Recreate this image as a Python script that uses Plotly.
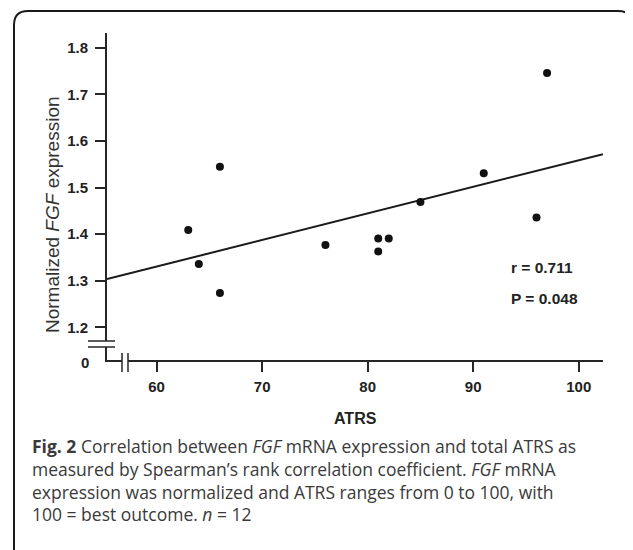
import numpy as np
import plotly.graph_objects as go

# ATRS score vs normalized FGF expression, n = 12
atrs = [63, 64, 66, 66, 76, 81, 81, 82, 85, 91, 96, 97]
fgf_expr = [1.409, 1.336, 1.545, 1.274, 1.377, 1.391, 1.363, 1.391, 1.469, 1.531, 1.436, 1.746]

x_ticks = [60, 70, 80, 90, 100]
y_ticks = [1.2, 1.3, 1.4, 1.5, 1.6, 1.7, 1.8]
x_range = [55.3, 102.3]
y_range = [1.13, 1.832]

stats_text = ["r = 0.711", "P = 0.048"]
caption_lines = [
    "<b>Fig. 2</b> Correlation between <i>FGF</i> mRNA expression and total ATRS as",
    "measured by Spearman’s rank correlation coefficient. <i>FGF</i> mRNA",
    "expression was normalized and ATRS ranges from 0 to 100, with",
    "100 = best outcome. <i>n</i> = 12",
]

W, H = 633, 550
OFF = 8  # page body margin shifts the figure
PL, PT, PW, PH = 107, 33, 496, 327  # plot area in screen pixels
L, T = PL - OFF, PT - OFF
R, B = W - L - PW, H - T - PH


def px2paper(x, y):
    return (x - PL) / PW, (PT + PH - y) / PH


# least squares line across the whole axis
slope, intercept = np.polyfit(atrs, fgf_expr, 1)
fit_x = np.array(x_range)
fit_y = slope * fit_x + intercept

ink = "#262626"

fig = go.Figure()
fig.add_trace(go.Scatter(x=fit_x, y=fit_y, mode="lines",
                         line=dict(color="#1a1a1a", width=2), hoverinfo="skip"))
fig.add_trace(go.Scatter(x=atrs, y=fgf_expr, mode="markers",
                         marker=dict(color="#111111", size=8)))

tick_font = dict(family="Liberation Sans, Arial", size=15, color="#222", weight="bold")

fig.update_xaxes(range=x_range, tickvals=x_ticks, showgrid=False, zeroline=False,
                 showline=True, linecolor=ink, linewidth=2,
                 ticks="outside", ticklen=10, tickwidth=2, tickcolor=ink,
                 tickfont=tick_font, ticklabelstandoff=2)
fig.update_yaxes(range=y_range, tickvals=y_ticks, tickformat=".1f", showgrid=False, zeroline=False,
                 showline=True, linecolor=ink, linewidth=2,
                 ticks="outside", ticklen=10, tickwidth=2, tickcolor=ink,
                 tickfont=tick_font, ticklabelstandoff=4)

shapes = []
# rounded figure frame
x0, y0 = px2paper(14, 560)
x1, y1 = px2paper(632, 11)
rx, ry = 14 / PW, 14 / PH
path = (f"M {x0},{y0} L {x0},{y1 - ry} Q {x0},{y1} {x0 + rx},{y1} "
        f"L {x1 - rx},{y1} Q {x1},{y1} {x1},{y1 - ry} L {x1},{y0}")
shapes.append(dict(type="path", xref="paper", yref="paper", path=path,
                   line=dict(color="#1a1a1a", width=2)))

# y axis break
bx0, by0 = px2paper(104, 347)
bx1, by1 = px2paper(110, 341)
shapes.append(dict(type="rect", xref="paper", yref="paper", x0=bx0, x1=bx1, y0=by0, y1=by1,
                   fillcolor="white", line=dict(width=0), layer="above"))
for yy in (341, 347):
    a, b = px2paper(88, yy)
    c, _ = px2paper(115, yy)
    shapes.append(dict(type="line", xref="paper", yref="paper", x0=a, x1=c, y0=b, y1=b,
                       line=dict(color=ink, width=1.5), layer="above"))

# x axis break
bx0, by0 = px2paper(122, 363)
bx1, by1 = px2paper(128, 357)
shapes.append(dict(type="rect", xref="paper", yref="paper", x0=bx0, x1=bx1, y0=by0, y1=by1,
                   fillcolor="white", line=dict(width=0), layer="above"))
for xx in (122, 128):
    a, b = px2paper(xx, 353)
    _, d = px2paper(xx, 372)
    shapes.append(dict(type="line", xref="paper", yref="paper", x0=a, x1=a, y0=d, y1=b,
                       line=dict(color=ink, width=1.5), layer="above"))

annotations = []
ax, ay = px2paper(85, 362)
annotations.append(dict(x=ax, y=ay, xref="paper", yref="paper", text="<b>0</b>", showarrow=False,
                        font=tick_font, xanchor="center", yanchor="middle"))
ax, ay = px2paper(355, 418)
annotations.append(dict(x=ax, y=ay, xref="paper", yref="paper", text="<b>ATRS</b>", showarrow=False,
                        font=dict(family="Liberation Sans, Arial", size=16, color="#222"),
                        xanchor="center", yanchor="middle"))
ax, ay = px2paper(52, 215)
annotations.append(dict(x=ax, y=ay, xref="paper", yref="paper",
                        text="Normalized <i>FGF</i> expression", showarrow=False, textangle=-90,
                        font=dict(family="Liberation Sans, Arial", size=19, color="#333"),
                        xanchor="center", yanchor="middle"))
for i, t in enumerate(stats_text):
    ax, ay = px2paper(509, 267 + 31 * i)
    annotations.append(dict(x=ax, y=ay, xref="paper", yref="paper", text=f"<b>{t}</b>",
                            showarrow=False, xanchor="left", yanchor="middle",
                            font=dict(family="Liberation Sans, Arial", size=15.5, color="#222")))

# caption as one multi-line text block
ax, ay = px2paper(30, 432)
annotations.append(dict(x=ax, y=ay, xref="paper", yref="paper", text="<br>".join(caption_lines),
                        showarrow=False, xanchor="left", yanchor="top", align="left",
                        font=dict(family="Open Sans", size=17.5, color="#3a3a3a")))

fig.update_layout(width=W, height=H, margin=dict(l=L, r=R, t=T, b=B),
                  paper_bgcolor="white", plot_bgcolor="white", showlegend=False,
                  shapes=shapes, annotations=annotations)

fig.write_html("out.html")
